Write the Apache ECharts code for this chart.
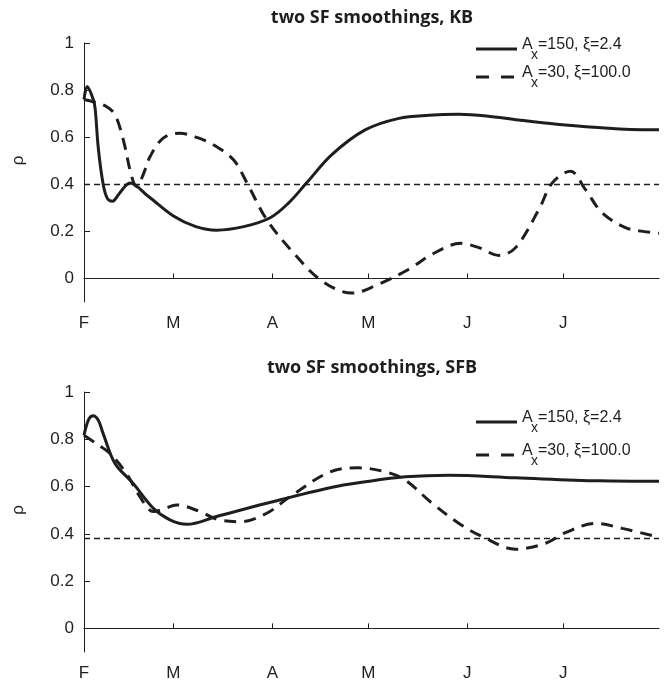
<!DOCTYPE html>
<html>
<head>
<meta charset="utf-8">
<script src="https://cdn.jsdelivr.net/npm/echarts@6/dist/echarts.min.js"></script>
<style>
  html, body { margin: 0; padding: 0; background: #fff; }
  #chart { width: 664px; height: 683px; }
</style>
</head>
<body>
<div id="chart"></div>
<script>
// days counted from 1 Feb
const monthTicks = [0, 28, 59, 89, 120, 150];
const monthLabels = ['F', 'M', 'A', 'M', 'J', 'J'];
const rhoTicks = [0, 0.2, 0.4, 0.6, 0.8, 1];

const panelTitles = ['two SF smoothings, KB', 'two SF smoothings, SFB'];
const nameSolid = 'A150';
const nameDashed = 'A30';
const legendLabels = ['=150, ξ=2.4', '=30, ξ=100.0'];

// KB panel
const kbSolidDays = [0, 1, 2.9, 3.5, 4.5, 6, 7.3, 8.9, 11, 14.4, 20, 28, 35, 41.5, 50, 58.3, 64, 69.7, 77.5, 88, 98.6, 108, 117.3, 126, 136, 148, 161, 171, 180];
const kbSolidRho  = [0.76, 0.815, 0.76, 0.72, 0.55, 0.4, 0.34, 0.328, 0.36, 0.405, 0.35, 0.265, 0.22, 0.205, 0.22, 0.258, 0.32, 0.406, 0.525, 0.631, 0.68, 0.693, 0.697, 0.69, 0.673, 0.655, 0.641, 0.633, 0.632];
const kbDashedDays = [0, 3, 7, 9.7, 12.3, 14.9, 16.5, 18.5, 20.7, 24.8, 30, 35, 40.5, 46.8, 51, 57.2, 65.5, 74.4, 83.9, 91.2, 101.7, 109, 117.9, 123.6, 129.9, 135.1, 142.4, 146.6, 152.3, 157, 162.2, 169.5, 175, 180];
const kbDashedRho  = [0.76, 0.75, 0.73, 0.695, 0.589, 0.434, 0.39, 0.44, 0.518, 0.596, 0.617, 0.6, 0.568, 0.504, 0.406, 0.25, 0.11, -0.01, -0.062, -0.031, 0.039, 0.103, 0.149, 0.131, 0.098, 0.131, 0.293, 0.406, 0.455, 0.377, 0.279, 0.216, 0.2, 0.192];
const kbLevel = 0.4;

// SFB panel
const sfbSolidDays = [0, 1.5, 2.9, 4.5, 6, 9.7, 15.4, 21.7, 26.9, 32.2, 41.5, 57.2, 77, 88.1, 100.6, 114.2, 135.1, 161.2, 180];
const sfbSolidRho  = [0.817, 0.885, 0.9, 0.88, 0.824, 0.698, 0.613, 0.508, 0.459, 0.44, 0.473, 0.529, 0.595, 0.62, 0.641, 0.648, 0.637, 0.624, 0.622];
const sfbDashedDays = [0, 4, 8.1, 13.3, 17.5, 21.7, 25, 29, 36.3, 42, 48.9, 57.2, 64.5, 77, 86, 94.4, 100.6, 109, 117.4, 124.7, 135.1, 144.5, 150.7, 160.1, 168.5, 180];
const sfbDashedRho  = [0.817, 0.78, 0.74, 0.655, 0.557, 0.494, 0.505, 0.522, 0.494, 0.46, 0.451, 0.487, 0.557, 0.662, 0.679, 0.662, 0.627, 0.529, 0.444, 0.388, 0.335, 0.36, 0.405, 0.444, 0.423, 0.385];
const sfbLevel = 0.38;

const ink = '#1e1e1e';
const sans = 'Liberation Sans';
const labelFont = { color: ink, fontSize: 17, fontFamily: sans };

const pairs = (xs, ys) => xs.map((x, i) => [x, ys[i]]);

const makeXAxis = (gridIndex) => ({
  type: 'value', gridIndex, min: 0, max: 180,
  splitLine: { show: false },
  axisLine: { lineStyle: { color: ink, width: 1 } },
  axisTick: { inside: true, length: 5, customValues: monthTicks, lineStyle: { color: ink } },
  axisLabel: {
    customValues: monthTicks, margin: 13, ...labelFont,
    formatter: v => monthLabels[monthTicks.indexOf(v)]
  }
});

const makeYAxis = (gridIndex) => ({
  type: 'value', gridIndex, min: -0.1, max: 1,
  name: 'ρ', nameLocation: 'middle', nameRotate: 90, nameGap: 57,
  nameTextStyle: { ...labelFont, padding: [0, 0, 0, 24] },
  splitLine: { show: false },
  axisLine: { show: true, lineStyle: { color: ink, width: 1 } },
  axisTick: { show: true, inside: true, length: 6, customValues: rhoTicks, lineStyle: { color: ink } },
  axisLabel: { customValues: rhoTicks, margin: 10, ...labelFont }
});

// panel title, centred over the plot area
const titleText = (y, text) => ({
  type: 'text', x: 372, y,
  style: { text, fill: ink, font: 'bold 18px "Open Sans"', textAlign: 'center', textVerticalAlign: 'middle' }
});

// legend drawn by hand: line sample, "A", subscript "x", rest of label
const legendRow = (y, dashed, label) => ([
  { type: 'line', shape: { x1: 476, y1: y, x2: 517, y2: y },
    style: { stroke: ink, lineWidth: 3, lineDash: dashed ? [13, 12] : null } },
  { type: 'text', x: 522, y: y - 12,
    style: { text: 'A', fill: ink, font: '16px "Liberation Sans"', textVerticalAlign: 'top' } },
  { type: 'text', x: 531, y: y - 1,
    style: { text: 'x', fill: ink, font: '14px "Liberation Sans"', textVerticalAlign: 'top' } },
  { type: 'text', x: 538, y: y - 12,
    style: { text: label, fill: ink, font: '16px "Liberation Sans"', textVerticalAlign: 'top' } }
]);

const lineSeries = (name, data, idx, dashed, level) => {
  const s = {
    name, type: 'line', xAxisIndex: idx, yAxisIndex: idx,
    data, smooth: 0.35, symbol: 'none',
    lineStyle: { color: ink, width: 3, type: dashed ? [12, 8] : 'solid' },
    itemStyle: { color: ink },
    z: dashed ? 3 : 4
  };
  if (level !== undefined) {
    s.markLine = {
      silent: true, symbol: 'none', label: { show: false },
      lineStyle: { color: ink, width: 1.3, type: [6, 4] },
      data: [{ yAxis: level }]
    };
  }
  return s;
};

const chart = echarts.init(document.getElementById('chart'));
chart.setOption({
  animation: false,
  backgroundColor: '#fff',
  grid: [
    { left: 84, right: 5, top: 43, height: 259, outerBoundsMode: 'none', containLabel: false },
    { left: 84, right: 5, top: 392, height: 260, outerBoundsMode: 'none', containLabel: false }
  ],
  xAxis: [makeXAxis(0), makeXAxis(1)],
  yAxis: [makeYAxis(0), makeYAxis(1)],
  graphic: [
    titleText(18, panelTitles[0]),
    titleText(368, panelTitles[1]),
    ...legendRow(49, false, legendLabels[0]),
    ...legendRow(77, true, legendLabels[1]),
    ...legendRow(422, false, legendLabels[0]),
    ...legendRow(455, true, legendLabels[1])
  ],
  series: [
    lineSeries(nameSolid, pairs(kbSolidDays, kbSolidRho), 0, false, kbLevel),
    lineSeries(nameDashed, pairs(kbDashedDays, kbDashedRho), 0, true),
    lineSeries(nameSolid, pairs(sfbSolidDays, sfbSolidRho), 1, false, sfbLevel),
    lineSeries(nameDashed, pairs(sfbDashedDays, sfbDashedRho), 1, true)
  ]
});
</script>
</body>
</html>
